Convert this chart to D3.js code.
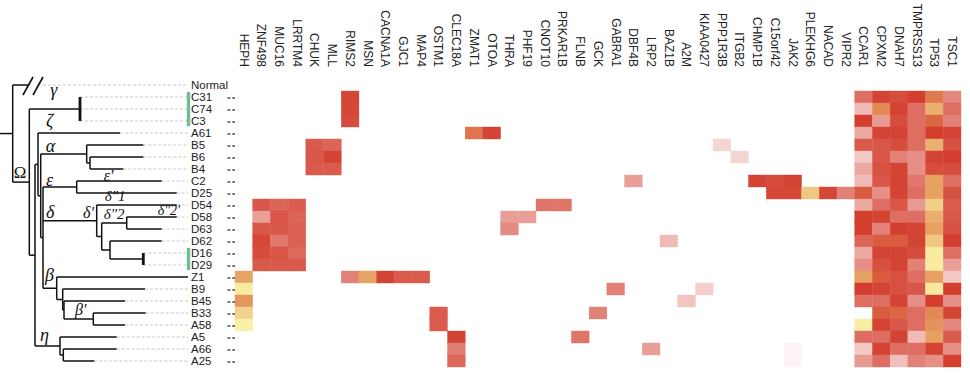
<!DOCTYPE html>
<html>
<head>
<meta charset="utf-8">
<script src="https://cdn.jsdelivr.net/npm/d3@7"></script>
<style>
  body { margin: 0; background: #fff; }
  svg { display: block; font-family: "Liberation Sans", Arial, sans-serif; }
</style>
</head>
<body>
<svg id="chart" width="970" height="389"></svg>
<script>
// rows of the heatmap, top to bottom (same order as the tree leaves)
const samples = ["Normal", "C31", "C74", "C3", "A61", "B5", "B6", "B4", "C2", "D25", "D54", "D58", "D63",
    "D62", "D16", "D29", "Z1", "B9", "B45", "B33", "A58", "A5", "A66", "A25"]

const genes = ["HEPH", "ZNF498", "MUC16", "LRRTM4", "CHUK", "MLL", "RIMS2", "MSN", "CACNA1A", "GJC1", "MAP4",
    "OSTM1", "CLEC18A", "ZMAT1", "OTOA", "THRA", "PHF19", "CNOT10", "PRKAR1B", "FLNB", "GCK", "GABRA1", "DBF4B",
    "LRP2", "BAZ1B", "A2M", "KIAA0427", "PPP1R3B", "ITGB2", "CHMP1B", "C15orf42", "JAK2", "PLEKHG6", "NACAD",
    "VIPR2", "CCAR1", "CPXM2", "DNAH7", "TMPRSS13", "TP53", "TSC1"]

// sparse cells: [sample, gene, hue (0 yellow .. 1 red), strength]
const sparseCells = [
    ["C31", "RIMS2", 1, .95], ["C74", "RIMS2", 1, .95], ["C3", "RIMS2", 1, .93],
    ["A61", "ZMAT1", .72, 1], ["A61", "OTOA", 1, .97],
    ["B5", "CHUK", 1, .85], ["B5", "MLL", 1, .8], ["B6", "CHUK", 1, .87], ["B6", "MLL", 1, .97],
    ["B4", "CHUK", 1, .85], ["B4", "MLL", 1, .85],
    ["B5", "PPP1R3B", 1, .22], ["B6", "ITGB2", 1, .22],
    ["C2", "DBF4B", 1, .5], ["C2", "CHMP1B", 1, .97], ["C2", "C15orf42", 1, .93], ["C2", "JAK2", 1, .98],
    ["D25", "C15orf42", 1, .95], ["D25", "JAK2", 1, .95], ["D25", "PLEKHG6", .27, 1], ["D25", "NACAD", 1, .95],
    ["D25", "VIPR2", 1, .65],
    ["D54", "ZNF498", 1, .87], ["D54", "MUC16", 1, .8], ["D54", "LRRTM4", 1, .84],
    ["D58", "ZNF498", 1, .5], ["D58", "MUC16", 1, .88], ["D58", "LRRTM4", 1, .8],
    ["D63", "ZNF498", 1, .87], ["D63", "MUC16", 1, .87], ["D63", "LRRTM4", 1, .82],
    ["D62", "ZNF498", 1, .95], ["D62", "MUC16", 1, .7], ["D62", "LRRTM4", 1, .82],
    ["D16", "ZNF498", 1, .93], ["D16", "MUC16", 1, .88], ["D16", "LRRTM4", 1, .78],
    ["D29", "ZNF498", 1, .86], ["D29", "MUC16", 1, .86], ["D29", "LRRTM4", 1, .86],
    ["D54", "CNOT10", 1, .72], ["D54", "PRKAR1B", 1, .72],
    ["D58", "THRA", 1, .5], ["D58", "PHF19", 1, .5], ["D63", "THRA", 1, .6], ["D62", "BAZ1B", 1, .35],
    ["Z1", "HEPH", .48, 1], ["B9", "HEPH", .05, 1], ["B45", "HEPH", .55, 1], ["B33", "HEPH", .2, 1],
    ["A58", "HEPH", .02, 1],
    ["Z1", "RIMS2", 1, .65], ["Z1", "MSN", .48, 1], ["Z1", "CACNA1A", 1, .97], ["Z1", "GJC1", 1, .85],
    ["Z1", "MAP4", 1, .85],
    ["B9", "GABRA1", 1, .65], ["B9", "KIAA0427", 1, .25], ["B45", "A2M", 1, .3], ["B33", "GCK", 1, .65],
    ["B33", "OSTM1", 1, .85], ["A58", "OSTM1", 1, .85],
    ["A5", "CLEC18A", 1, .97], ["A66", "CLEC18A", 1, .68], ["A25", "CLEC18A", 1, .78],
    ["A5", "FLNB", 1, .72], ["A66", "LRP2", 1, .5], ["A66", "JAK2", 1, .05], ["A25", "JAK2", 1, .05]
]

// dense block on the right, rows C31 .. A25
const denseGenes = ["CCAR1", "CPXM2", "DNAH7", "TMPRSS13", "TP53", "TSC1"]
const denseHue = [
    [1, 1, 1, 1, .7, 1], [1, .62, 1, 1, .41, 1], [1, 1, 1, 1, .8, 1], [1, 1, 1, 1, 1, 1],
    [1, 1, 1, 1, .41, 1], [1, 1, 1, 1, 1, 1], [1, 1, 1, 1, 1, 1], [1, 1, 1, 1, .5, 1],
    [.85, 1, 1, 1, .5, 1], [1, 1, 1, 1, .22, 1], [1, 1, 1, 1, .42, 1], [1, 1, 1, 1, .5, 1],
    [1, .85, .85, 1, .27, 1], [1, 1, 1, 1, .04, 1], [1, 1, 1, 1, .04, 1], [.5, .85, 1, 1, .5, 1],
    [1, 1, 1, 1, .06, 1], [1, 1, 1, 1, 1, 1], [1, .85, .8, 1, .62, 1], [.03, 1, 1, 1, .57, 1],
    [1, 1, 1, 1, .5, 1], [1, 1, 1, 1, 1, 1], [1, 1, 1, 1, 1, 1]
]
const denseStrength = [
    [.75, .97, .93, 1, 1, .62], [.35, 1, .97, .75, 1, .75], [1, .52, .93, .75, 1, .66],
    [.45, .97, .97, .75, 1, .97], [.85, .87, .93, .75, 1, .9], [.28, .87, .65, .58, .97, 1],
    [.45, .9, .97, .58, .93, .93], [.35, .87, .97, .7, 1, .75], [1, .58, .97, .75, 1, .9],
    [.45, .75, .87, .52, 1, .85], [1, .97, .75, .75, 1, .87], [1, .65, 1, .97, 1, .9],
    [.8, 1, 1, .97, 1, 1], [.45, .97, .97, .93, 1, .75], [.58, .9, .97, .65, 1, .5],
    [1, 1, .9, .75, 1, .28], [1, .97, .9, .87, 1, 1], [.75, .75, .97, .58, 1, .58],
    [0, 1, 1, .75, 1, .97], [1, .97, .87, .75, 1, .62], [.75, .75, .97, .35, 1, .85],
    [.28, .97, .75, .75, .97, .58], [.52, .75, .33, .65, .58, 1]
]

// tree: x = distance from the left edge (branch units)
const tree = { x: 12.7, children: [
    { name: "Normal", x: 28, broken: true },
    { x: 29.3, label: "Ω", children: [
        { x: 80, label: "γ", children: [{ name: "C31", x: 80 }, { name: "C74", x: 80 }, { name: "C3", x: 80 }] },
        { x: 35, children: [
            { x: 38, children: [
                { name: "A61", x: 120, label: "ζ" },
                { x: 40.7, children: [
                    { x: 86.7, label: "α", children: [
                        { name: "B5", x: 143.3 },
                        { x: 90, children: [{ name: "B6", x: 143.3 }, { name: "B4", x: 123.3 }] }
                    ] },
                    { x: 43, children: [
                        { x: 76.7, label: "ε", children: [{ name: "C2", x: 161.7, label: "ε'" }, { name: "D25", x: 176.7 }] },
                        { x: 96.7, label: "δ", label2: "δ'", children: [
                            { name: "D54", x: 176.7, label: "δ\"1" },
                            { x: 101.7, children: [
                                { x: 126.7, label: "δ\"2", children: [{ name: "D58", x: 176.7, label: "δ\"2'" }, { name: "D63", x: 161.7 }] },
                                { x: 110, children: [
                                    { name: "D62", x: 161.7 },
                                    { x: 143.3, children: [{ name: "D16", x: 143.3 }, { name: "D29", x: 143.3 }] }
                                ] }
                            ] }
                        ] },
                        { x: 56.7, label: "β", children: [
                            { name: "Z1", x: 188 },
                            { x: 62.7, children: [
                                { name: "B9", x: 145 },
                                { x: 64, children: [
                                    { name: "B45", x: 125 },
                                    { x: 93.3, label: "β'", children: [{ name: "B33", x: 145.7 }, { name: "A58", x: 125 }] }
                                ] }
                            ] }
                        ] }
                    ] }
                ] }
            ] },
            { x: 60, label: "η", children: [
                { name: "A5", x: 116.7 },
                { x: 63.3, children: [{ name: "A66", x: 116.7 }, { name: "A25", x: 94.3 }] }
            ] }
        ] }
    ] }
] }

const markedGroups = [["C31", "C3"], ["D16", "D29"]]

// where each clade label sits relative to its branch (dx from parent, dy from branch, size)
const labelPlace = {
    "Ω": [1, -4, 17], "γ": [21, -13, 18], "ζ": [8, -6, 18], "α": [5, -2, 18], "ε": [3, -1, 18],
    "ε'": [27, 0, 16], "δ": [3, -3, 18], "δ'": [40, -3, 16], "δ\"1": [8, -4, 15], "δ\"2": [2, -4, 15],
    "δ\"2'": [31, -2, 14], "β": [2, -7, 18], "β'": [11, -4, 16], "η": [5, -5, 18]
}

const svg = d3.select("#chart")

const x = d3.scaleBand().domain(genes).range([235, 961])
const y = d3.scaleBand().domain(samples).range([79, 367])
const tx = d3.scaleLinear().domain([0, 190]).range([0, 190])
const hueColor = d3.scaleLinear().domain([0, .5, 1]).range(["#f9f3a7", "#e7a163", "#d33e2e"])
const cellColor = (h, s) => d3.interpolateRgb("#ffffff", hueColor(h))(s)

// heatmap cells
const cells = sparseCells.map(d => ({ sample: d[0], gene: d[1], hue: d[2], s: d[3] }))
samples.slice(1).forEach((s, i) => {
    denseGenes.forEach((g, j) => {
        if (denseStrength[i][j] > 0) cells.push({ sample: s, gene: g, hue: denseHue[i][j], s: denseStrength[i][j] })
    })
})

svg.append("g").selectAll("rect")
    .data(cells)
    .enter().append("rect")
    .attr("x", d => x(d.gene))
    .attr("y", d => y(d.sample))
    .attr("width", x.bandwidth())
    .attr("height", y.bandwidth())
    .attr("fill", d => cellColor(d.hue, d.s))
    .attr("stroke", d => cellColor(d.hue, d.s))
    .attr("stroke-width", 0.4)

// column labels
svg.append("g").selectAll("text")
    .data(genes)
    .enter().append("text")
    .attr("transform", d => `translate(${x(d) + x.bandwidth() / 2},67) rotate(90)`)
    .attr("text-anchor", "end")
    .attr("dy", "0.35em")
    .attr("font-size", "12px")
    .attr("fill", "#222")
    .text(d => d)

// row labels and dash ticks
const rowG = svg.append("g")
rowG.selectAll("text")
    .data(samples)
    .enter().append("text")
    .attr("x", 191)
    .attr("y", d => y(d) + y.bandwidth() / 2)
    .attr("dy", "0.36em")
    .attr("font-size", "11.5px")
    .attr("fill", "#222")
    .text(d => d)
rowG.selectAll("line")
    .data(samples.slice(1))
    .enter().append("line")
    .attr("x1", 227.5).attr("x2", 235)
    .attr("y1", d => y(d) + y.bandwidth() / 2 + 1)
    .attr("y2", d => y(d) + y.bandwidth() / 2 + 1)
    .attr("stroke", "#444")
    .attr("stroke-width", 1.3)
    .attr("stroke-dasharray", "2.7,2.1")

// tree layout
const root = d3.hierarchy(tree)
root.eachAfter(n => {
    if (n.children) n.py = (n.children[0].py + n.children[n.children.length - 1].py) / 2
    else n.py = y(n.data.name) + y.bandwidth() / 2
})

const treeG = svg.append("g")
    .attr("fill", "none")
    .attr("stroke", "#111")
    .attr("stroke-width", 1.5)

// dashed guides from leaf tips to labels
treeG.selectAll(".guide")
    .data(root.leaves().filter(d => tx(d.data.x) < 187))
    .enter().append("line")
    .attr("class", "guide")
    .attr("x1", d => d.data.broken ? 43 : tx(d.data.x))
    .attr("x2", 188)
    .attr("y1", d => d.py).attr("y2", d => d.py)
    .attr("stroke", "#c8c8c8")
    .attr("stroke-width", 1)
    .attr("stroke-dasharray", "3,2")

// root stem
treeG.append("line")
    .attr("x1", tx(0)).attr("x2", tx(root.data.x))
    .attr("y1", root.py).attr("y2", root.py)

// horizontal branches
treeG.selectAll(".hb")
    .data(root.links())
    .enter().append("line")
    .attr("class", "hb")
    .attr("x1", d => tx(d.source.data.x))
    .attr("x2", d => tx(d.target.data.x))
    .attr("y1", d => d.target.py).attr("y2", d => d.target.py)

// vertical connectors
treeG.selectAll(".vb")
    .data(root.descendants().filter(d => d.children))
    .enter().append("line")
    .attr("class", "vb")
    .attr("x1", d => tx(d.data.x)).attr("x2", d => tx(d.data.x))
    .attr("y1", d => d.children[0].py)
    .attr("y2", d => d.children[d.children.length - 1].py)
    .attr("stroke-width", d => d.children.every(c => c.data.x === d.data.x) ? 2.8 : 1.5)

// break marks on the Normal branch
const brk = root.leaves().find(d => d.data.broken)
treeG.selectAll(".brk")
    .data([0, 10])
    .enter().append("line")
    .attr("class", "brk")
    .attr("x1", d => tx(brk.data.x) - 5 + d).attr("y1", brk.py + 10)
    .attr("x2", d => tx(brk.data.x) + 5 + d).attr("y2", brk.py - 8)
    .attr("stroke-width", 1.6)

// green markers
svg.append("g").selectAll("rect")
    .data(markedGroups)
    .enter().append("rect")
    .attr("x", 186.8)
    .attr("y", d => y(d[0]) + 1)
    .attr("width", 3.4)
    .attr("height", d => y(d[1]) + y.bandwidth() - y(d[0]) - 2)
    .attr("fill", "#6dbb9c")

// clade labels
const labelled = []
root.descendants().forEach(n => {
    if (n.data.label) labelled.push({ text: n.data.label, node: n })
    if (n.data.label2) labelled.push({ text: n.data.label2, node: n })
})
svg.append("g").selectAll("text")
    .data(labelled)
    .enter().append("text")
    .attr("x", d => tx(d.node.parent ? d.node.parent.data.x : 0) + labelPlace[d.text][0])
    .attr("y", d => d.node.py + labelPlace[d.text][1])
    .attr("font-family", "'Liberation Serif', 'DejaVu Serif', serif")
    .attr("font-style", d => d.text === "Ω" ? "normal" : "italic")
    .attr("font-size", d => labelPlace[d.text][2] + "px")
    .attr("fill", "#111")
    .text(d => d.text)
</script>
</body>
</html>
